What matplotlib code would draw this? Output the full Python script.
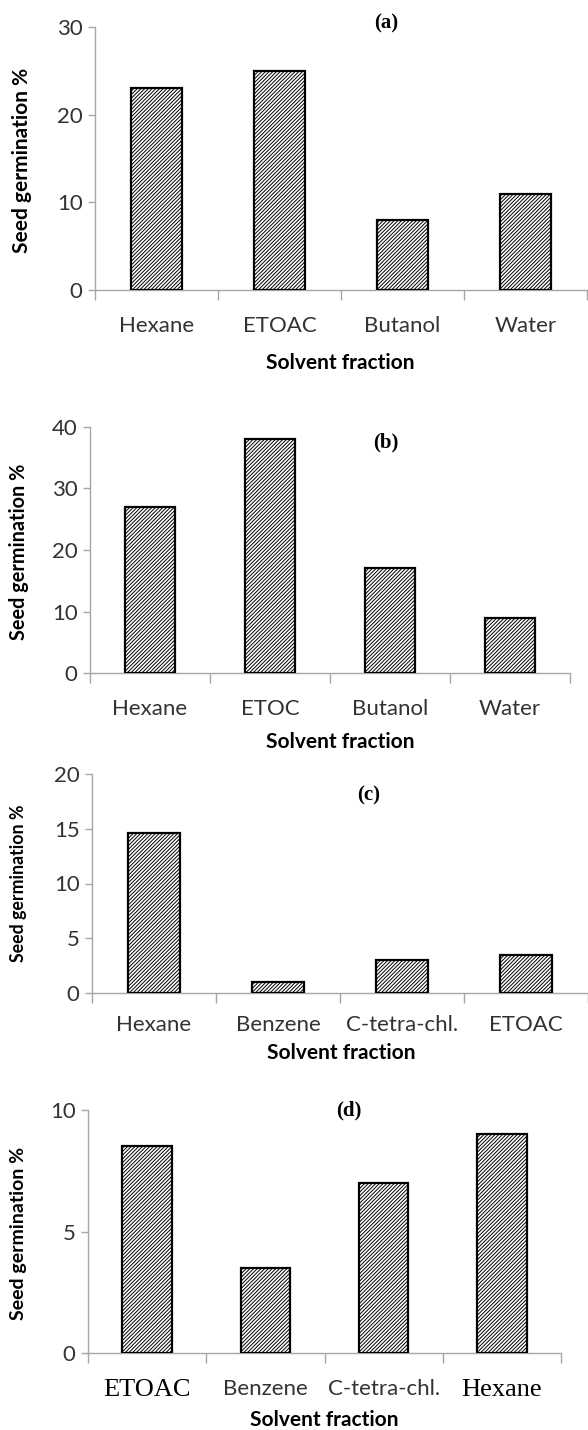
import matplotlib.pyplot as plt
import matplotlib as mpl

# valores
cat_a = ['Hexane', 'ETOAC', 'Butanol', 'Water']
val_a = [23, 25, 8, 11]
cat_b = ['Hexane', 'ETOC', 'Butanol', 'Water']
val_b = [27, 38, 17, 9]
cat_c = ['Hexane', 'Benzene', 'C-tetra-chl.', 'ETOAC']
val_c = [14.6, 1, 3, 3.5]
cat_d = ['ETOAC', 'Benzene', 'C-tetra-chl.', 'Hexane']
val_d = [8.5, 3.5, 7, 9]

yticks_a = [0, 10, 20, 30]
yticks_b = [0, 10, 20, 30, 40]
yticks_c = [0, 5, 10, 15, 20]
yticks_d = [0, 5, 10]

W, H = 588, 1430
DPI = 100
mpl.rcParams['hatch.linewidth'] = 0.7
mpl.rcParams['hatch.color'] = '#444444'

fig = plt.figure(figsize=(W / DPI, H / DPI), dpi=DPI)

SANS = 'Lato'
SERIF = 'Liberation Serif'
GRAY = '#a6a6a6'
TXT = '#333333'


def painel(cats, vals, yt, left, right, ytop, y0, letra, tx, ty,
           ylab_x, ylab_y, ylab_fs, xlab_x, xlab_y, lab_pad):
    ax = fig.add_axes([left / W, 1 - y0 / H, (right - left) / W, (y0 - ytop) / H])
    x = list(range(len(cats)))
    ax.bar(x, vals, width=0.42, color='white', edgecolor='black',
           linewidth=1.6, hatch='/////////', zorder=3)
    ax.set_xlim(-0.5, len(cats) - 0.5)
    ax.set_ylim(0, yt[-1])
    ax.set_yticks(yt)
    ax.set_xticks(x)
    ax.set_xticklabels(cats)
    ax.set_xticks([i - 0.5 for i in range(len(cats) + 1)], minor=True)
    for s in ['top', 'right']:
        ax.spines[s].set_visible(False)
    for s in ['left', 'bottom']:
        ax.spines[s].set_color(GRAY)
        ax.spines[s].set_linewidth(1.0)
    ax.tick_params(axis='y', length=5, width=1.0, color=GRAY, labelsize=16,
                   labelcolor=TXT, pad=4)
    ax.tick_params(axis='x', which='major', length=0, labelsize=16,
                   labelcolor=TXT, pad=lab_pad)
    ax.tick_params(axis='x', which='minor', length=7, width=1.0, color=GRAY)
    for lb in ax.get_xticklabels() + ax.get_yticklabels():
        lb.set_fontfamily(SANS)
    ax.set_ylabel('Seed germination %', fontsize=ylab_fs, fontweight='bold',
                  fontfamily=SANS, color='black')
    ax.yaxis.set_label_coords(ylab_x / W, 1 - ylab_y / H, transform=fig.transFigure)
    ax.set_xlabel('Solvent fraction', fontsize=15, fontweight='bold',
                  fontfamily=SANS, color='black')
    ax.xaxis.set_label_coords(xlab_x / W, 1 - xlab_y / H, transform=fig.transFigure)
    ax.xaxis.label.set_va('center')
    ax.yaxis.label.set_va('center')
    fig.text(tx / W, 1 - ty / H, letra, fontsize=15, fontweight='bold',
             fontfamily=SERIF, ha='center', va='center')
    return ax


painel(cat_a, val_a, yticks_a, 95, 587, 27, 290, '(a)', 386, 23,
       22, 160, 15, 340, 363, 18.5)
painel(cat_b, val_b, yticks_b, 90, 570, 427, 673, '(b)', 386, 442,
       19, 552, 14.3, 340, 742, 18.5)
painel(cat_c, val_c, yticks_c, 92, 588, 774, 993, '(c)', 369, 795,
       19, 883, 12.8, 341, 1053, 15.5)
ax_d = painel(cat_d, val_d, yticks_d, 88, 561, 1110, 1353, '(d)', 349, 1110,
              19, 1233, 14, 324, 1420, 18.5)

# no painel (d) dois rotulos estao em fonte serifada
for lb in ax_d.get_xticklabels():
    if lb.get_text() in ('ETOAC', 'Hexane'):
        lb.set_fontfamily(SERIF)
        lb.set_fontsize(19)
        lb.set_color('black')

fig.savefig('out.png', dpi=DPI)
